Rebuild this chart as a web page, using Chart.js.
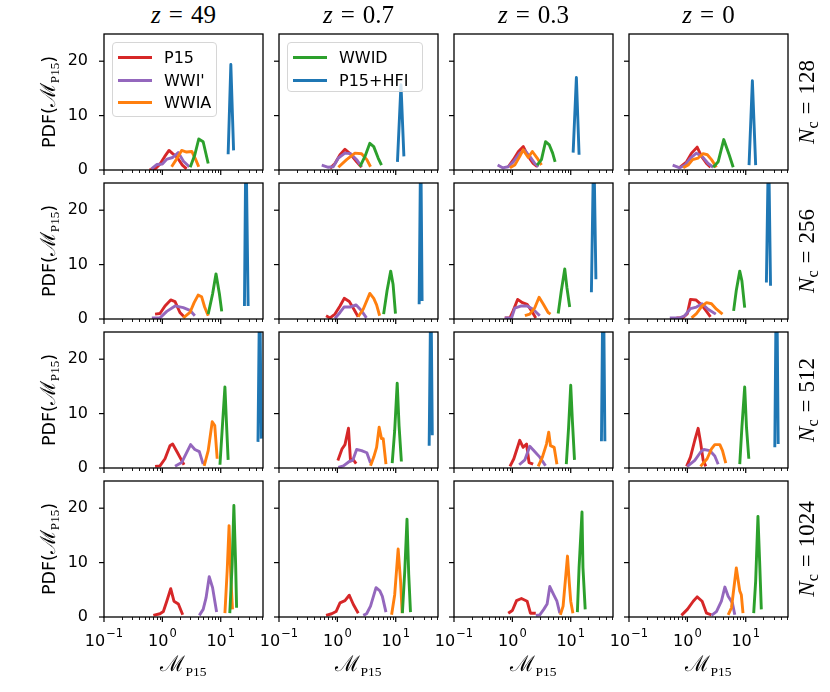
<!DOCTYPE html>
<html>
<head>
<meta charset="utf-8">
<title>PDF of M_P15</title>
<script src="https://cdn.jsdelivr.net/npm/chart.js@4.4.1/dist/chart.umd.min.js"></script>
<style>
  body { margin: 0; background: #fff; }
  #fig { position: relative; width: 830px; height: 692px; overflow: hidden; font-family: "DejaVu Sans", sans-serif; color: #000; }
  #fig canvas { position: absolute; }
  .lbl { position: absolute; white-space: nowrap; transform: translate(-50%, -50%); }
  .rot { transform: translate(-50%, -50%) rotate(-90deg); }
  .serif { font-family: "Liberation Serif", serif; }
  .cal { font-family: "DejaVu Serif", serif; font-size: 1.2em; }
  .legend { position: absolute; box-sizing: border-box; border: 1px solid #d6d6d6; border-radius: 4px; background: rgba(255,255,255,0.8); }
  .legend .h { position: absolute; height: 3px; width: 34px; }
  .legend .t { position: absolute; font-size: 16px; line-height: 16px; white-space: nowrap; }
</style>
</head>
<body>
<div id="fig"></div>
<script>
const zLabels = ['49', '0.7', '0.3', '0'];
const ncLabels = ['128', '256', '512', '1024'];
const seriesNames = ['P15', "WWI'", 'WWIA', 'WWID', 'P15+HFI'];
const yTickValues = [0, 10, 20];
const xTickValues = [0.1, 1, 10];
const xTickExponents = ['\u22121', '0', '1'];

// [x, y] points per panel; rows are Nc = 128, 256, 512, 1024, columns z = 49, 0.7, 0.3, 0
const p15 = [
  [[0.6,0],[0.75,0.2],[0.9,1.0],[1.1,2.5],[1.3,3.6],[1.5,3.0],[1.8,2.3],[2.2,0.9],[2.6,0.2]],
  [[0.75,0.3],[0.91,1.2],[1.11,2.8],[1.35,3.8],[1.65,3.0],[2.14,1.5],[2.6,0.5]],
  [[0.85,0.6],[1.04,1.9],[1.27,3.4],[1.54,4.3],[1.87,2.5],[2.27,1.2],[2.67,0.6]],
  [[0.74,0.5],[0.97,1.5],[1.18,3.1],[1.47,4.2],[1.75,2.5],[2.13,1.2],[2.49,0.5]],

  [[0.75,0.9],[0.91,1.0],[1.11,2.4],[1.39,3.5],[1.65,3.2],[2.0,1.2],[2.35,0.4]],
  [[0.64,0.6],[0.75,0.2],[0.91,0.9],[1.11,2.4],[1.31,3.8],[1.6,3.2],[1.92,1.8],[2.27,0.4]],
  [[0.74,0.2],[0.91,0.2],[1.03,1.5],[1.23,3.6],[1.49,3.0],[1.79,2.7],[2.13,1.5],[2.52,0.2]],
  [[0.65,0.2],[0.83,0.2],[1.0,1.0],[1.13,3.6],[1.4,3.5],[1.75,2.6],[2.13,1.4],[2.49,0.4]],

  [[0.75,0.3],[0.91,0.4],[1.11,1.7],[1.35,4.1],[1.5,4.4],[1.8,2.9],[2.14,1.4],[2.35,0.6]],
  [[1.02,1.4],[1.2,3.5],[1.35,4.3],[1.55,7.3],[1.68,1.3],[1.85,1.6],[2.1,0.8]],
  [[0.91,0.3],[1.06,1.7],[1.34,5.1],[1.53,3.8],[1.75,4.4],[1.93,1.0],[2.27,0.7]],
  [[0.97,0.3],[1.13,2.0],[1.34,5.1],[1.53,7.3],[1.68,4.8],[1.86,1.5],[2.07,0.3]],

  [[0.7,0.3],[0.91,0.6],[1.04,1.0],[1.19,2.9],[1.39,5.2],[1.58,2.9],[1.88,2.4],[2.23,0.4]],
  [[0.64,0.3],[0.8,0.6],[0.95,1.0],[1.11,2.6],[1.35,3.0],[1.6,4.0],[1.88,2.3],[2.28,0.7]],
  [[0.85,0.7],[1.0,1.2],[1.18,3.0],[1.43,3.4],[1.79,2.9],[2.04,0.7],[2.52,0.7]],
  [[0.79,0.3],[1.0,1.4],[1.26,2.9],[1.47,3.7],[1.79,2.9],[2.13,0.7],[2.59,0.4]]
];

const wwiPrime = [
  [[0.65,0.2],[0.8,1.0],[1.0,1.1],[1.2,2.0],[1.5,2.3],[1.87,3.2],[2.3,1.6],[2.9,0.6]],
  [[0.54,0.9],[0.7,0.5],[0.85,0.6],[1.04,2.2],[1.35,3.1],[1.69,3.0],[2.14,1.9],[2.6,0.6]],
  [[0.56,0.9],[0.68,0.4],[0.85,0.6],[1.04,1.5],[1.34,3.1],[1.63,3.6],[1.99,2.5],[2.43,1.2],[2.8,0.6]],
  [[0.56,0.9],[0.74,0.4],[0.91,0.9],[1.13,2.2],[1.43,3.1],[1.79,2.5],[2.27,1.2],[2.77,0.5]],

  [[0.66,0.2],[0.91,0.2],[1.19,1.4],[1.65,2.4],[2.28,2.1],[2.97,1.6],[3.6,0.6]],
  [[0.91,0.1],[1.11,1.2],[1.3,2.2],[1.64,2.2],[2.08,2.6],[2.6,1.5],[3.15,0.2]],
  [[0.74,0.2],[0.97,0.2],[1.1,2.0],[1.43,2.4],[1.79,2.4],[2.27,1.8],[2.95,0.6]],
  [[0.5,0.2],[0.74,0.2],[0.9,0.6],[1.13,1.9],[1.43,2.2],[1.79,2.8],[2.27,1.8],[3.07,0.9]],

  [[1.65,0.3],[2.14,1.0],[2.54,2.6],[3.05,4.3],[3.6,3.4],[4.3,3.0],[5.0,0.7]],
  [[1.04,0.1],[1.27,0.4],[1.6,1.2],[1.83,1.4],[2.14,3.4],[2.6,3.2],[3.2,2.8],[3.7,0.9]],
  [[1.31,0.6],[1.64,1.5],[1.99,4.0],[2.43,3.0],[2.95,2.0],[3.7,0.4]],
  [[1.0,0.3],[1.34,1.4],[1.68,2.9],[1.91,3.4],[2.42,3.2],[2.95,2.2],[3.37,0.7]],

  [[4.3,0.3],[5.0,1.4],[5.6,3.5],[6.35,7.4],[7.25,5.4],[8.0,2.6],[8.5,0.9]],
  [[2.78,0.3],[3.17,0.6],[3.7,2.0],[4.6,5.4],[5.35,4.8],[5.9,3.8],[6.8,0.9]],
  [[2.52,0.3],[2.95,0.4],[3.45,1.4],[3.94,2.4],[4.38,5.6],[5.1,4.1],[5.8,2.9],[6.5,0.7]],
  [[2.59,0.3],[3.15,1.0],[3.83,2.9],[4.39,5.5],[5.0,3.8],[5.9,2.6],[6.5,0.4]]
];

const wwia = [
  [[1.44,0.6],[1.75,2.0],[2.14,3.6],[2.6,3.3],[3.2,3.4],[3.7,2.0],[4.2,0.6]],
  [[1.04,0.5],[1.44,1.9],[2.0,3.1],[2.6,3.0],[3.2,1.9],[3.7,0.6]],
  [[0.91,0.4],[1.1,0.9],[1.34,2.5],[1.53,3.7],[1.87,2.3],[2.2,3.4],[2.66,2.2],[3.15,0.9]],
  [[0.85,0.4],[1.03,0.9],[1.23,1.9],[1.53,2.2],[1.86,3.0],[2.2,2.8],[2.59,1.9],[3.15,0.5]],

  [[2.28,0.2],[2.97,1.2],[3.5,3.0],[4.1,4.4],[4.7,4.1],[5.3,2.2],[6.1,0.6]],
  [[2.27,0.4],[2.77,1.8],[3.6,4.7],[4.2,3.8],[4.7,2.6],[5.3,0.6]],
  [[1.64,0.6],[1.99,0.9],[2.43,2.1],[2.87,4.0],[3.36,2.8],[4.1,1.2],[4.5,0.9]],
  [[1.18,0.2],[1.43,1.0],[1.79,2.4],[2.13,3.0],[2.59,2.8],[3.15,1.8],[4.0,0.9]],

  [[5.2,0.4],[6.1,3.2],[7.15,8.5],[7.9,7.8],[8.7,1.7]],
  [[3.7,0.4],[4.2,2.0],[4.7,3.8],[5.2,7.5],[5.7,5.4],[6.1,5.4],[6.8,0.7]],
  [[2.77,0.3],[3.27,2.0],[3.84,4.4],[4.2,6.6],[4.5,4.1],[5.2,3.8],[5.8,0.7]],
  [[1.68,0.3],[2.18,1.7],[2.59,3.5],[2.95,4.3],[3.6,4.3],[4.0,3.2],[4.55,0.9]],

  [[11.8,0.7],[12.9,8.5],[13.9,16.8],[14.9,7.2],[15.9,1.4]],
  [[8.5,0.4],[9.6,4.1],[11.0,12.5],[12.1,6.6],[12.9,0.7]],
  [[6.65,0.4],[7.4,2.0],[8.8,11.2],[9.4,6.6],[10.0,2.9],[10.9,0.7]],
  [[5.0,0.4],[5.7,1.7],[6.9,9.0],[7.9,4.8],[8.4,4.1],[8.98,0.7]]
];

const wwid = [
  [[3.0,0.5],[3.6,2.8],[4.2,5.7],[5.0,5.2],[6.1,1.2]],
  [[2.44,0.6],[2.97,2.5],[3.6,4.9],[4.2,4.3],[5.0,2.2],[5.7,0.9]],
  [[2.66,0.9],[3.15,1.9],[3.7,5.2],[4.3,4.6],[4.9,3.1],[5.4,1.5]],
  [[2.77,0.5],[3.37,1.5],[4.2,5.6],[5.2,2.8],[6.1,0.5]],

  [[6.1,0.9],[7.25,4.6],[8.3,8.3],[9.5,4.6],[10.4,1.4]],
  [[6.2,0.9],[7.1,5.2],[8.2,8.8],[9.0,6.4],[9.9,1.0]],
  [[6.1,1.0],[6.9,5.2],[7.9,9.2],[8.6,5.8],[9.6,2.2]],
  [[6.2,1.5],[6.9,5.3],[7.9,8.8],[8.6,7.0],[9.6,2.1]],

  [[9.7,0.6],[10.8,8.5],[11.8,14.9],[12.6,7.8],[13.4,1.5]],
  [[8.7,0.9],[9.6,6.9],[10.6,15.6],[11.4,7.8],[12.5,1.2]],
  [[8.4,0.7],[9.2,7.5],[10.0,15.2],[10.7,8.5],[11.6,1.5]],
  [[7.9,0.7],[8.6,7.5],[9.6,14.9],[10.3,7.5],[11.3,1.7]],

  [[14.3,0.7],[15.7,9.7],[16.8,20.5],[18.0,9.7],[18.7,1.7]],
  [[13.0,0.7],[14.3,8.5],[15.6,18.0],[16.7,7.8],[17.9,0.9]],
  [[13.0,0.9],[13.9,9.1],[15.6,19.3],[16.2,9.1],[17.7,1.4]],
  [[13.7,0.7],[14.8,6.6],[16.2,18.5],[17.3,10.3],[18.5,1.4]]
];

const p15hfi = [
  [[13.4,2.9],[14.9,19.4],[16.6,3.6]],
  [[10.7,1.5],[12.3,15.7],[13.8,2.5]],
  [[11.0,3.2],[12.5,17.0],[13.9,2.8]],
  [[11.4,0.9],[13.0,16.4],[14.8,0.9]],

  [[25.5,2.4],[27.0,34],[29.5,2.4]],
  [[25.2,2.7],[26.8,34],[28.3,3.3]],
  [[22.6,4.9],[24.8,33],[27.0,7.3]],
  [[22.6,6.7],[24.6,33],[26.6,6.1]],

  [[43.5,4.8],[46.5,35],[49.5,5.4]],
  [[37.4,4.1],[40.0,35],[42.3,6.0]],
  [[33.6,4.9],[36.0,40],[38.5,4.9]],
  [[31.5,3.8],[33.7,40],[36.0,4.4]],

  [], [], [], []
];

const allSeries = [p15, wwiPrime, wwia, wwid, p15hfi];
const colors = ['#d62728', '#9467bd', '#ff7f0e', '#2ca02c', '#1f77b4'];
const xRange = [0.1, 53];
const yRange = [0, 25];

// panel geometry (px)
const left0 = 104, top0 = 34, colStep = 175, rowStep = 149, pw = 159, ph = 136;
const padL = 62, padT = 4, padR = 4;

const minorX = [];
[0.1, 1, 10].forEach(d => {
  for (let m = 2; m <= 9; m++) if (m * d <= xRange[1]) minorX.push(m * d);
});

const mathLabel = '<span class="cal">\u2133</span><sub class="serif" style="font-size:0.75em;vertical-align:-0.3em">P15</sub>';

const frameTicks = {
  id: 'frameTicks',
  afterDraw(chart, args, opts) {
    const { ctx, chartArea: a, scales: { x, y } } = chart;
    const seg = (x1, y1, x2, y2) => { ctx.beginPath(); ctx.moveTo(x1, y1); ctx.lineTo(x2, y2); ctx.stroke(); };
    ctx.save();
    ctx.strokeStyle = '#000';
    ctx.lineWidth = 0.9;
    minorX.forEach(v => {
      const px = Math.round(x.getPixelForValue(v)) + 0.5;
      seg(px, a.bottom, px, a.bottom + 3);
    });
    ctx.lineWidth = 1.2;
    xTickValues.forEach(v => {
      const px = x.getPixelForValue(v);
      seg(px, a.bottom, px, a.bottom + 5);
    });
    yTickValues.forEach(v => {
      const py = y.getPixelForValue(v);
      seg(a.left - 5, py, a.left, py);
    });
    ctx.lineWidth = 1.3;
    ctx.strokeRect(a.left, a.top, a.right - a.left, a.bottom - a.top);

    if (opts.showX) {
      ctx.fillStyle = '#000';
      ctx.textBaseline = 'alphabetic';
      xTickValues.forEach((v, i) => {
        const px = x.getPixelForValue(v);
        ctx.font = '16px "DejaVu Sans"';
        const wb = ctx.measureText('10').width;
        ctx.font = '11.5px "DejaVu Sans"';
        const we = ctx.measureText(xTickExponents[i]).width;
        const x0 = px - (wb + we + 1) / 2;
        ctx.font = '16px "DejaVu Sans"';
        ctx.fillText('10', x0, a.bottom + 29);
        ctx.font = '11.5px "DejaVu Sans"';
        ctx.fillText(xTickExponents[i], x0 + wb + 1, a.bottom + 20);
      });
    }
    ctx.restore();
  }
};

const fig = document.getElementById('fig');

function addLabel(html, x, y, cls, style) {
  const d = document.createElement('div');
  d.className = 'lbl ' + (cls || '');
  d.style.left = x + 'px';
  d.style.top = y + 'px';
  if (style) d.style.cssText += style;
  d.innerHTML = html;
  fig.appendChild(d);
}

for (let r = 0; r < 4; r++) {
  for (let c = 0; c < 4; c++) {
    const idx = r * 4 + c;
    const padB = r === 3 ? 40 : 10;
    const canvas = document.createElement('canvas');
    canvas.width = padL + pw + padR;
    canvas.height = padT + ph + padB;
    canvas.style.left = (left0 + c * colStep - padL) + 'px';
    canvas.style.top = (top0 + r * rowStep - padT) + 'px';
    fig.appendChild(canvas);

    new Chart(canvas, {
      type: 'line',
      data: {
        datasets: allSeries.map((s, i) => ({
          label: seriesNames[i],
          data: s[idx].map(p => ({ x: p[0], y: p[1] })),
          borderColor: colors[i],
          backgroundColor: colors[i],
          borderWidth: 2.9,
          borderJoinStyle: 'round',
          pointRadius: 0,
          tension: 0,
          fill: false,
          clip: 0,
          order: 4 - i
        }))
      },
      options: {
        responsive: false,
        animation: false,
        events: [],
        layout: { padding: { left: 0, top: padT, right: padR, bottom: 0 } },
        plugins: { legend: { display: false }, tooltip: { enabled: false }, frameTicks: { showX: r === 3 } },
        scales: {
          x: {
            type: 'logarithmic',
            min: xRange[0],
            max: xRange[1],
            grid: { display: false, drawTicks: false },
            border: { display: false },
            ticks: { display: false },
            afterFit: s => { s.height = padB; s.paddingLeft = 0; s.paddingRight = 0; }
          },
          y: {
            type: 'linear',
            min: yRange[0],
            max: yRange[1],
            grid: { display: false, drawTicks: false },
            border: { display: false },
            afterBuildTicks: s => { s.ticks = yTickValues.map(v => ({ value: v })); },
            ticks: {
              display: c === 0,
              autoSkip: false,
              padding: 16,
              color: '#000',
              font: { family: 'DejaVu Sans', size: 16 },
              callback: v => String(v)
            },
            afterFit: s => { s.width = padL; s.paddingTop = 0; s.paddingBottom = 0; }
          }
        }
      },
      plugins: [frameTicks]
    });
  }
}

// column titles and row labels
zLabels.forEach((z, c) => {
  addLabel('<i>z</i><span style="margin:0 0.32em">=</span>' + z,
    left0 + c * colStep + pw / 2, 15, 'serif', 'font-size:25px');
  addLabel(mathLabel, left0 + c * colStep + pw / 2, 664, '', 'font-size:18px');
});
ncLabels.forEach((n, r) => {
  const cy = top0 + r * rowStep + ph / 2;
  addLabel('<i>N</i><sub style="font-size:0.7em;vertical-align:-0.25em">c</sub><span style="margin:0 0.3em">=</span>' + n,
    808, cy, 'serif rot', 'font-size:23px');
  addLabel('PDF(' + mathLabel + ')', 48, cy, 'rot', 'font-size:17.5px');
});

// legends
function addLegend(left, top, width, height, items) {
  const box = document.createElement('div');
  box.className = 'legend';
  box.style.left = Math.round(left) + 'px';
  box.style.top = Math.round(top) + 'px';
  box.style.width = width + 'px';
  box.style.height = height + 'px';
  items.forEach((i, k) => {
    const cy = Math.round(14 + k * 22.7);
    const h = document.createElement('div');
    h.className = 'h';
    h.style.left = '5px';
    h.style.top = (cy - 1) + 'px';
    h.style.background = colors[i];
    box.appendChild(h);
    const t = document.createElement('div');
    t.className = 't';
    t.style.left = '51px';
    t.style.top = (cy - 7) + 'px';
    t.textContent = seriesNames[i];
    box.appendChild(t);
  });
  fig.appendChild(box);
}
addLegend(left0 + 7.7, top0 + 8, 105, 75, [0, 1, 2]);
addLegend(left0 + colStep + 8, top0 + 8, 136, 50, [3, 4]);
</script>
</body>
</html>
